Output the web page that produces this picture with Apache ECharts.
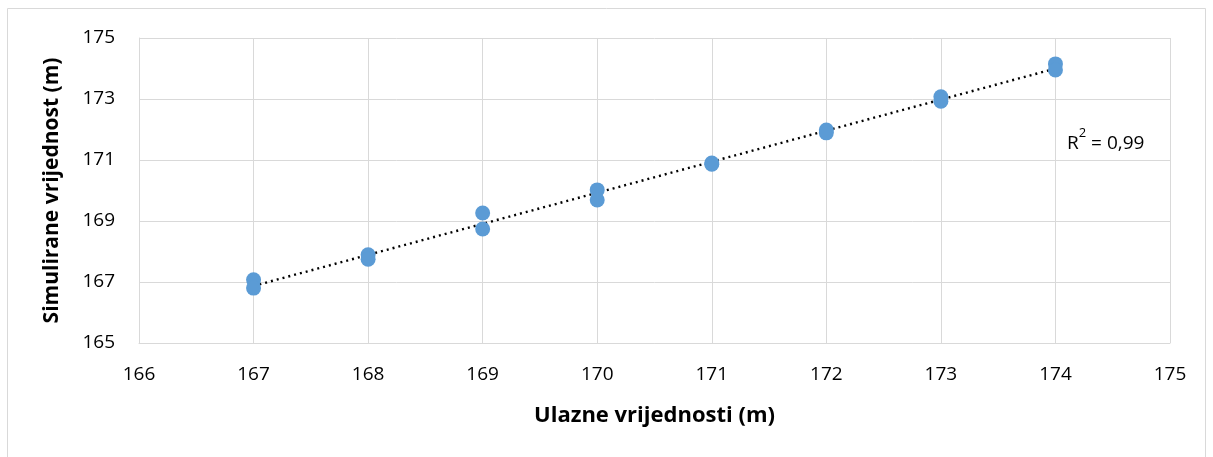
<!DOCTYPE html>
<html><head><meta charset="utf-8">
<script src="https://cdn.jsdelivr.net/npm/echarts@6/dist/echarts.min.js"></script>
<style>html,body{margin:0;padding:0;background:#fff}#c{width:1213px;height:457px}</style>
</head><body><div id="c"></div>
<script>
const xValues = [167,167,168,168,169,169,170,170,171,171,172,172,173,173,174,174];
const yValues = [167.07,166.80,167.89,167.75,169.26,168.74,170.02,169.69,170.90,170.86,171.98,171.89,173.07,172.93,174.15,173.95];
const xTicks = [166,175,1];
const yTicks = [165,175,2];
const r2Label = '0,99';

const pts = xValues.map((x,i)=>[x,yValues[i]]);
// least squares trendline
const n = pts.length;
let sx=0,sy=0,sxx=0,sxy=0;
pts.forEach(p=>{sx+=p[0];sy+=p[1];sxx+=p[0]*p[0];sxy+=p[0]*p[1];});
const b=(n*sxy-sx*sy)/(n*sxx-sx*sx), a=(sy-b*sx)/n;
const xMinD=Math.min(...xValues), xMaxD=Math.max(...xValues);
const trend=[[xMinD,a+b*xMinD],[xMaxD,a+b*xMaxD]];

const font='"Open Sans", "Liberation Sans", sans-serif';
const chart=echarts.init(document.getElementById('c'));
chart.setOption({
  animation:false,
  grid:{left:139,right:43,top:38,bottom:114},
  xAxis:{type:'value',min:xTicks[0],max:xTicks[1],interval:xTicks[2],
    name:'Ulazne vrijednosti (m)',nameLocation:'middle',nameGap:62,
    nameTextStyle:{fontFamily:font,fontSize:22,fontWeight:'bold',color:'#000'},
    axisLine:{show:true,lineStyle:{color:'#d9d9d9',width:1}},axisTick:{show:false},
    axisLabel:{fontFamily:font,fontSize:19,color:'#000',margin:22},
    splitLine:{show:true,lineStyle:{color:'#d9d9d9',width:1}}},
  yAxis:{type:'value',min:yTicks[0],max:yTicks[1],interval:yTicks[2],
    name:'Simulirane vrijednost (m)',nameLocation:'middle',nameGap:76,nameRotate:90,
    nameTextStyle:{fontFamily:font,fontSize:21,fontWeight:'bold',color:'#000'},
    axisLine:{show:true,lineStyle:{color:'#d9d9d9',width:1}},axisTick:{show:false},
    axisLabel:{fontFamily:font,fontSize:19,color:'#000',margin:24},
    splitLine:{show:true,lineStyle:{color:'#d9d9d9',width:1}}},
  series:[
    {type:'line',data:trend,symbol:'none',lineStyle:{color:'#000',width:2.4,type:[2,4]},z:3},
    {type:'scatter',data:pts,symbolSize:15,itemStyle:{color:'#5B9BD5',opacity:1},z:4}
  ],
  graphic:[
    {type:'rect',shape:{x:7.5,y:8.5,width:1198,height:470},style:{fill:'none',stroke:'#d9d9d9',lineWidth:1},silent:true},
    {type:'text',left:1067,top:127,style:{
      text:'{n|R}{s|2}{n| = '+r2Label+'}',
      rich:{n:{fontFamily:font,fontSize:19,fill:'#000',verticalAlign:'bottom',lineHeight:26},
            s:{fontFamily:font,fontSize:13,fill:'#000',verticalAlign:'top',padding:[0,0,7,0],lineHeight:26}}}}
  ]
});
</script></body></html>
